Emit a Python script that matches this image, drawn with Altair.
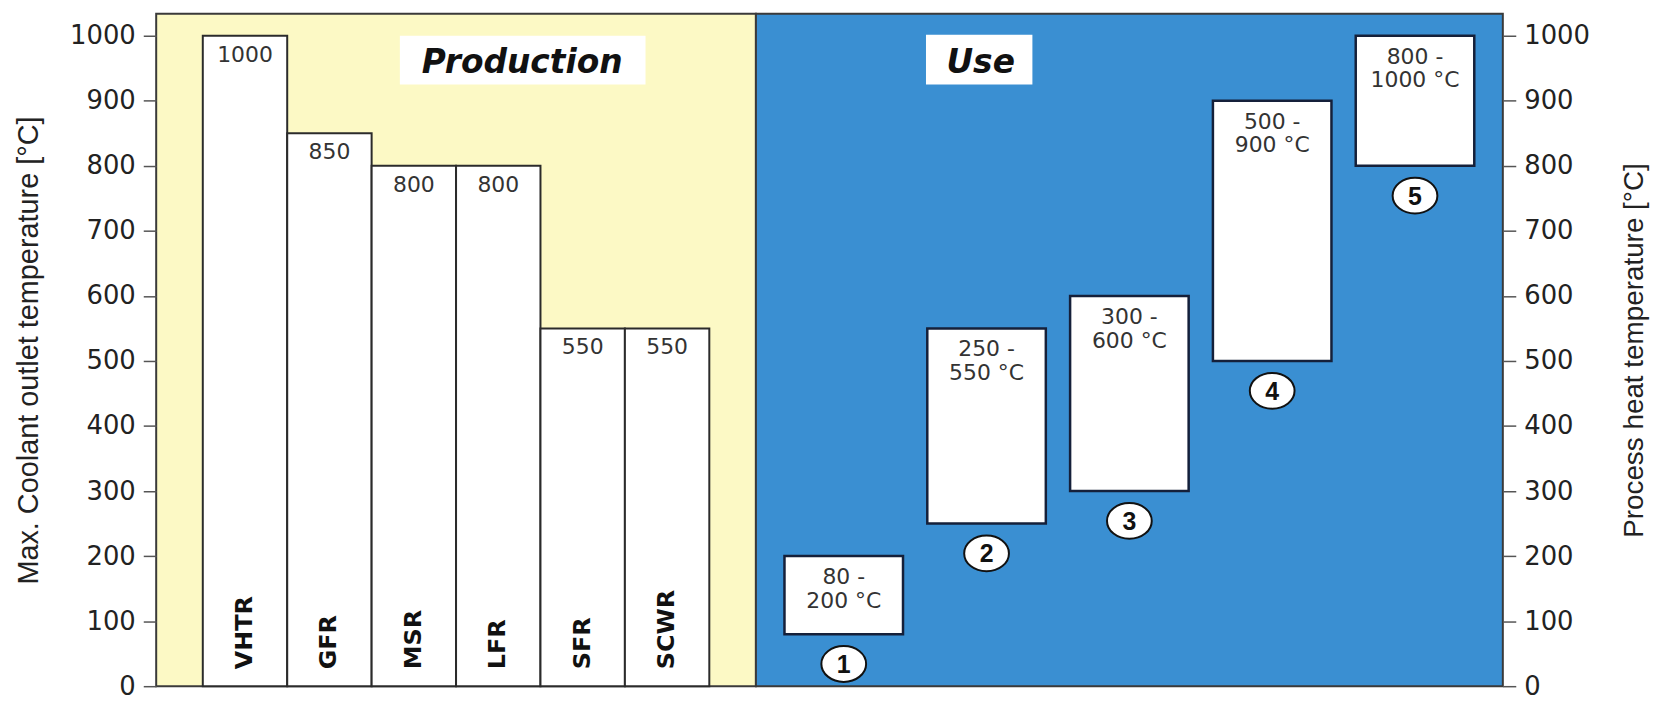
import altair as alt
import pandas as pd

# ---------------- data ----------------
reactors = ["VHTR", "GFR", "MSR", "LFR", "SFR", "SCWR"]
outlet_temp = [1000, 850, 800, 800, 550, 550]

use_ids = ["1", "2", "3", "4", "5"]
use_low = [80, 250, 300, 500, 800]
use_high = [200, 550, 600, 900, 1000]
use_labels = ["80 -\n200 °C", "250 -\n550 °C", "300 -\n600 °C", "500 -\n900 °C", "800 -\n1000 °C"]

y_ticks = [0, 100, 200, 300, 400, 500, 600, 700, 800, 900, 1000]
panel_titles = ["Production", "Use"]
left_title = "Max. Coolant outlet temperature [°C]"
right_title = "Process heat temperature [°C]"

# ---------------- style ----------------
YELLOW = "#fcf9c5"
BLUE = "#3a8fd2"
BORDER = "#3a3a3a"
H = 676
WL = 603
WR = 751
yscale = alt.Scale(domain=[0, 1033.6], nice=False, zero=True)

prod = pd.DataFrame({"reactor": reactors, "temp": outlet_temp})
use = pd.DataFrame({"id": use_ids, "low": use_low, "high": use_high, "label": use_labels})
pt_left = pd.DataFrame({"t": [panel_titles[0]]})
pt_right = pd.DataFrame({"t": [panel_titles[1]]})

common_axis = dict(values=y_ticks, format="d", grid=False, domain=False, tickSize=13, tickColor="#555",
                   tickWidth=1.5, labelPadding=8, labelFont="DejaVu Sans", labelFontSize=26,
                   labelColor="#222", labelFlush=False, labelOverlap=False,
                   titleFont="Liberation Sans", titleFontWeight="normal", titleColor="#222")
axis_left = alt.Axis(orient="left", title=left_title, titleFontSize=29, titlePadding=26, **common_axis)
axis_right = alt.Axis(orient="right", title=right_title, titleFontSize=28, titlePadding=31,
                      titleAngle=270, titleBaseline="top", **common_axis)


def yenc(field, axis):
    return alt.Y(field, type="quantitative", scale=yscale, axis=axis)


# ---------------- left panel: Production ----------------
xl = alt.X("reactor:N", sort=reactors, scale=alt.Scale(paddingInner=0, paddingOuter=0.552), axis=None)
base_l = alt.Chart(prod)

bars = base_l.mark_bar(fill="white", stroke="#2b2b2b", strokeWidth=2, opacity=1).encode(
    x=xl, y=yenc("temp", axis_left))
vals = base_l.mark_text(baseline="middle", dy=19, font="DejaVu Sans", fontSize=22, color="#333").encode(
    x=xl, y=yenc("temp", axis_left), text="temp:Q")
names = base_l.transform_calculate(base="0").mark_text(
    angle=270, align="left", baseline="middle", dx=17, font="DejaVu Sans", fontWeight="bold",
    fontSize=24, color="#111").encode(x=xl, y=yenc("base", axis_left), text="reactor:N")
pbox = alt.Chart(pt_left).mark_rect(fill="white").encode(
    x=alt.value(245), x2=alt.value(492), y=alt.value(22), y2=alt.value(71))
ptxt = alt.Chart(pt_left).mark_text(font="DejaVu Sans", fontSize=33, fontWeight="bold", fontStyle="italic",
                                    color="#111", baseline="middle").encode(
    x=alt.value(368), y=alt.value(49), text="t:N")

left = alt.layer(bars, vals, names, pbox, ptxt).properties(
    width=WL, height=H, view=alt.ViewBackground(fill=YELLOW, stroke=BORDER, strokeWidth=2))

# ---------------- right panel: Use ----------------
xr = alt.X("id:N", sort=use_ids, scale=alt.Scale(paddingInner=0.17, paddingOuter=0.2), axis=None)
base_r = alt.Chart(use)
ellipse = "M-1,0A1,0.8 0 1,1 1,0A1,0.8 0 1,1 -1,0Z"

boxes = base_r.mark_bar(fill="white", stroke="#15203a", strokeWidth=2.5, opacity=1).encode(
    x=xr, y=yenc("low", axis_right), y2="high:Q")
btxt = base_r.mark_text(baseline="top", dy=11, lineBreak="\n", lineHeight=24, font="DejaVu Sans",
                        fontSize=22, color="#333").encode(
    x=xr, y=yenc("high", axis_right), text="label:N")
circ = base_r.mark_point(shape=ellipse, size=2025, filled=True, fill="white", stroke="#111",
                         strokeWidth=2, opacity=1, yOffset=30).encode(
    x=xr, y=yenc("low", axis_right))
cnum = base_r.mark_text(baseline="middle", dy=31, font="Liberation Sans", fontWeight="bold", fontSize=25,
                        color="#111").encode(x=xr, y=yenc("low", axis_right), text="id:N")
ubox = alt.Chart(pt_right).mark_rect(fill="white").encode(
    x=alt.value(171), x2=alt.value(278), y=alt.value(21), y2=alt.value(71))
utxt = alt.Chart(pt_right).mark_text(font="DejaVu Sans", fontSize=33, fontWeight="bold", fontStyle="italic",
                                     color="#111", baseline="middle").encode(
    x=alt.value(226), y=alt.value(49), text="t:N")

right = alt.layer(boxes, btxt, circ, cnum, ubox, utxt).properties(
    width=WR, height=H, view=alt.ViewBackground(fill=BLUE, stroke=BORDER, strokeWidth=2))

chart = alt.hconcat(left, right, spacing=0, bounds="flush").properties(
    padding={"left": 5, "top": 3, "right": 5, "bottom": 0},
    background="white",
)

chart.save("out.html", embed_options={"renderer": "svg", "actions": False})
